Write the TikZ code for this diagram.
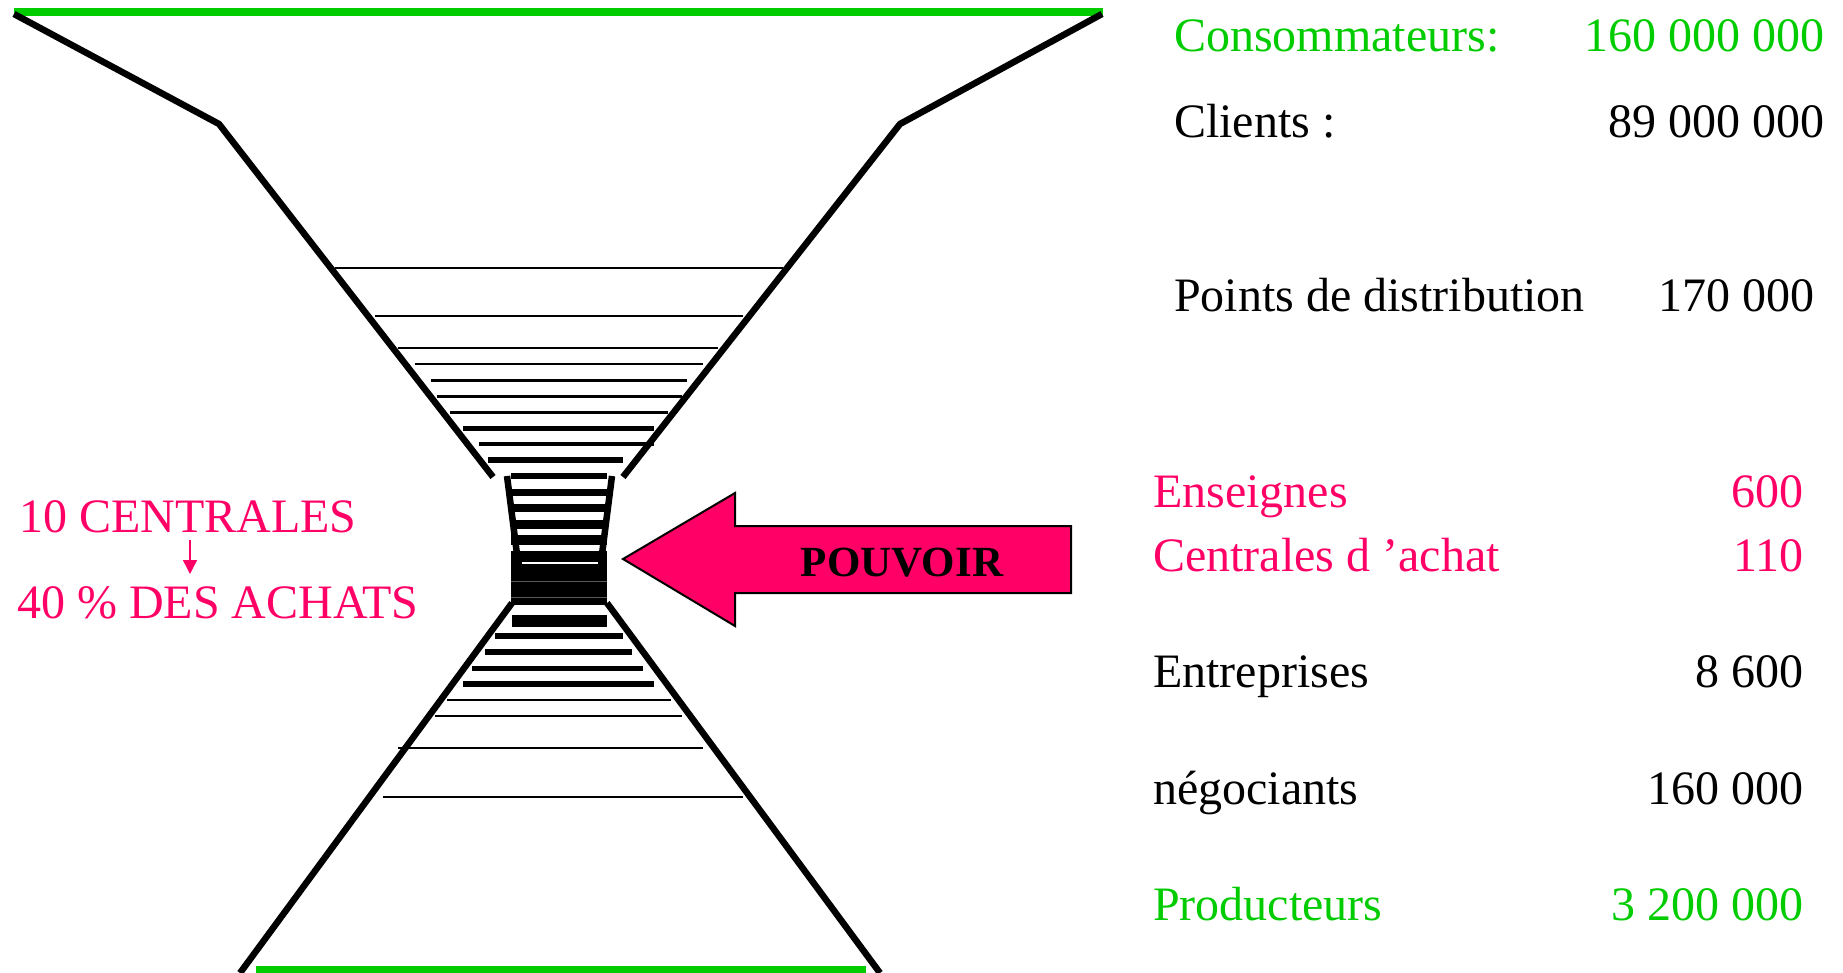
\documentclass[tikz,border=0pt]{standalone}
\usepackage{fontspec}
\setmainfont{Liberation Serif}
\usetikzlibrary{arrows.meta}
\definecolor{vert}{HTML}{00CC00}
\definecolor{rose}{HTML}{FF0066}
\begin{document}
\begin{tikzpicture}[x=1pt,y=-1pt,
  txt/.style={inner sep=0pt, font=\fontsize{48}{58}\selectfont},
  funnel/.style={line width=6.5pt, line cap=butt, line join=bevel},
  greenbar/.style={vert, line width=7.5pt},
  bar/.style={line width=#1 pt}]
\useasboundingbox (0,0) rectangle (1843,973);
\fill[white] (0,0) rectangle (1843,973);

% green lines
\draw[greenbar] (14,12) -- (1103,12);
\draw[greenbar] (256,970) -- (866,970);

% funnel outline
\draw[funnel] (14,14) -- (219,124) -- (493,477);
\draw[funnel] (1102,14) -- (900,124) -- (623,477);
\draw[funnel] (507,476) -- (518,562);
\draw[funnel] (612,476) -- (601,562);
\draw[funnel] (512,603) -- (240,973);
\draw[funnel] (607,603) -- (880,973);

% upper bars
\draw[bar=1.8] (335,268) -- (783,268);
\draw[bar=1.8] (375,316) -- (743,316);
\draw[bar=1.8] (398,348) -- (718,348);
\draw[bar=2.2] (415,364) -- (703,364);
\draw[bar=3] (431,380) -- (687,380);
\draw[bar=3] (437,396) -- (682,396);
\draw[bar=3] (450,412) -- (668,412);
\draw[bar=5] (463,428) -- (654,428);
\draw[bar=4] (479,444) -- (654,444);
\draw[bar=5.5] (488,460) -- (623,460);
\draw[bar=6] (511,476) -- (607,476);
% neck bars
\draw[bar=7] (511,492) -- (607,492);
\draw[bar=8] (511,508) -- (607,508);
\draw[bar=9] (511,524) -- (607,524);
\draw[bar=10] (511,540) -- (607,540);
\fill (511,551) rectangle (607,605);
\draw[white, line width=1.3pt] (522,563) -- (598,563);
\draw[black!65, line width=0.8pt] (511,581) -- (607,581);
\draw[black!65, line width=0.8pt] (511,597) -- (607,597);
\draw[bar=12] (512,621) -- (607,621);
% lower bars
\draw[bar=6] (495,636) -- (623,636);
\draw[bar=6] (485,652) -- (632,652);
\draw[bar=5] (472,668) -- (643,668);
\draw[bar=6] (463,684) -- (654,684);
\draw[bar=2] (447,700) -- (671,700);
\draw[bar=2] (435,716) -- (682,716);
\draw[bar=2] (398,748) -- (703,748);
\draw[bar=2] (383,797) -- (743,797);

% POUVOIR arrow
\draw[fill=rose, line width=2pt, line join=miter]
  (623,559) -- (735,493) -- (735,526) -- (1071,526) -- (1071,593) -- (735,593) -- (735,626) -- cycle;
\node[inner sep=0pt, anchor=base, font=\bfseries\fontsize{43}{50}\selectfont] (pouvoir) at (902,576) {POUVOIR};

% left pink texts
\node[txt, rose, anchor=base west] (c10) at (19,532) {10 CENTRALES};
\node[txt, rose, anchor=base west] (c40) at (17,618) {40 \% DES ACHATS};
\coordinate (a1) at (190,540);
\coordinate (a2) at (190,574);
\draw[rose, line width=1.5pt, -{Triangle[length=14pt,width=14pt]}] (a1) -- (a2);

% right table
\node[txt, vert, anchor=base west] (consL) at (1174,52) {Consommateurs:};
\node[txt, vert, anchor=base east] (consR) at (1825,52) {160 000 000};
\node[txt, anchor=base west] (cliL) at (1174,138) {Clients :};
\node[txt, anchor=base east] (cliR) at (1825,138) {89 000 000};
\node[txt, anchor=base west] (ptsL) at (1174,312) {Points de distribution};
\node[txt, anchor=base east] (ptsR) at (1815,312) {170 000};
\node[txt, rose, anchor=base west] (ensL) at (1153,507) {Enseignes};
\node[txt, rose, anchor=base east] (ensR) at (1804,507) {600};
\node[txt, rose, anchor=base west] (cenL) at (1153,571) {Centrales d ’achat};
\node[txt, rose, anchor=base east] (cenR) at (1804,571) {110};
\node[txt, anchor=base west] (entL) at (1153,687) {Entreprises};
\node[txt, anchor=base east] (entR) at (1804,687) {8 600};
\node[txt, anchor=base west] (negL) at (1153,804) {négociants};
\node[txt, anchor=base east] (negR) at (1804,804) {160 000};
\node[txt, vert, anchor=base west] (proL) at (1153,920) {Producteurs};
\node[txt, vert, anchor=base east] (proR) at (1804,920) {3 200 000};
\end{tikzpicture}
\end{document}
